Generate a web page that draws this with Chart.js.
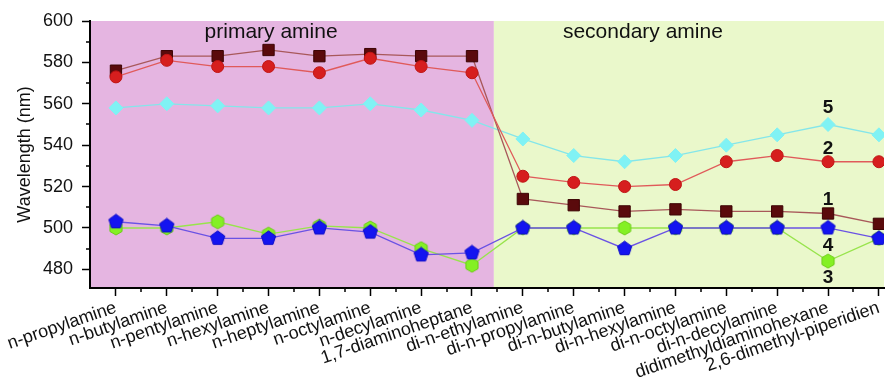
<!DOCTYPE html>
<html>
<head>
<meta charset="utf-8">
<script src="https://cdn.jsdelivr.net/npm/chart.js@4.4.0/dist/chart.umd.min.js"></script>
<style>
  html, body { margin: 0; padding: 0; background: #fff; }
  #wrap { width: 893px; height: 387px; }
</style>
</head>
<body>
<div id="wrap"><canvas id="myChart" width="893" height="387"></canvas></div>
<script>
const amines = ["n-propylamine", "n-butylamine", "n-pentylamine", "n-hexylamine", "n-heptylamine", "n-octylamine", "n-decylamine", "1,7-diaminoheptane",
  "di-n-ethylamine", "di-n-propylamine", "di-n-butylamine", "di-n-hexylamine", "di-n-octylamine", "di-n-decylamine", "didimethyldiaminohexane", "2,6-dimethyl-piperidien"];

const data1 = [576, 583, 583, 586, 583, 584, 583, 583, 514, 511, 508, 509, 508, 508, 507, 502];
const data2 = [573, 581, 578, 578, 575, 582, 578, 575, 525, 522, 520, 521, 532, 535, 532, 532];
const data5 = [558, 560, 559, 558, 558, 560, 557, 552, 543, 535, 532, 535, 540, 545, 550, 545];
const data3 = [500, 500, 503, 497, 501, 500, 490, 482, 500, 500, 500, 500, 500, 500, 484, 495];
const data4 = [503, 501, 495, 495, 500, 498, 487, 488, 500, 500, 490, 500, 500, 500, 500, 495];

const yTicks = [480, 500, 520, 540, 560, 580, 600];
const yMinor = [490, 510, 530, 550, 570, 590];

// series numbers written beside didimethyldiaminohexane
const seriesTags = ["5", "2", "1", "4", "3"];
const seriesTagY = [558, 538.5, 513.5, 491.5, 476];
const seriesTagX = 14;

// groups: name, from, to (x values)
const groupNames = ["primary amine", "secondary amine"];
const groupFrom = [-0.51, 7.43];
const groupTo = [7.43, 15.1];
const groupColors = ["#e5b5e1", "#eaf8cb"];
const groupLabelX = [3.05, 10.36];

const FONT = '"Liberation Sans", Arial, sans-serif';

function toXY(arr) {
  return arr.map((v, i) => ({x: i, y: v}));
}

function polyMarker(n, r, fill, stroke) {
  const c = document.createElement('canvas');
  c.width = c.height = Math.ceil(2 * r + 2);
  const ctx = c.getContext('2d');
  const cx = c.width / 2, cy = c.height / 2;
  ctx.beginPath();
  for (let k = 0; k < n; k++) {
    const a = -Math.PI / 2 + k * 2 * Math.PI / n;
    const px = cx + r * Math.cos(a), py = cy + r * Math.sin(a);
    if (k === 0) ctx.moveTo(px, py); else ctx.lineTo(px, py);
  }
  ctx.closePath();
  ctx.fillStyle = fill;
  ctx.fill();
  ctx.strokeStyle = stroke;
  ctx.lineWidth = 1;
  ctx.stroke();
  return c;
}

const pentagon = polyMarker(5, 7.5, '#1414f0', '#0a0ac8');
const hexagon = polyMarker(6, 7, '#84f024', '#6ccc18');

const backgroundPlugin = {
  id: 'groups',
  beforeDraw(chart) {
    const {ctx, chartArea, scales} = chart;
    ctx.save();
    for (let g = 0; g < groupNames.length; g++) {
      const x0 = scales.x.getPixelForValue(groupFrom[g]);
      const x1 = scales.x.getPixelForValue(groupTo[g]);
      ctx.fillStyle = groupColors[g];
      ctx.fillRect(x0, chartArea.top, x1 - x0, chartArea.bottom - chartArea.top);
    }
    ctx.fillStyle = '#111';
    ctx.font = '21px ' + FONT;
    ctx.textAlign = 'center';
    ctx.textBaseline = 'alphabetic';
    for (let g = 0; g < groupNames.length; g++) {
      ctx.fillText(groupNames[g], scales.x.getPixelForValue(groupLabelX[g]), chartArea.top + 17);
    }
    ctx.restore();
  },
  afterDraw(chart) {
    const {ctx, chartArea, scales} = chart;
    ctx.save();
    ctx.strokeStyle = '#000';
    ctx.lineWidth = 1.5;
    ctx.beginPath();
    for (let i = 0; i < amines.length; i++) {
      const v = i + 0.5;
      if (v > scales.x.max) break;
      const px = Math.round(scales.x.getPixelForValue(v));
      ctx.moveTo(px, chartArea.bottom);
      ctx.lineTo(px, chartArea.bottom + 4);
    }
    yMinor.forEach(v => {
      const py = Math.round(scales.y.getPixelForValue(v));
      ctx.moveTo(chartArea.left, py);
      ctx.lineTo(chartArea.left - 4, py);
    });
    ctx.stroke();

    ctx.fillStyle = '#111';
    ctx.font = 'bold 19px ' + FONT;
    ctx.textAlign = 'center';
    ctx.textBaseline = 'middle';
    for (let k = 0; k < seriesTags.length; k++) {
      ctx.fillText(seriesTags[k], scales.x.getPixelForValue(seriesTagX), scales.y.getPixelForValue(seriesTagY[k]));
    }
    ctx.restore();
  }
};

const config = {
  type: 'line',
  data: {
    datasets: [
      {
        label: '1',
        data: toXY(data1),
        order: 4,
        borderColor: '#a8585a',
        backgroundColor: '#5a0a0c',
        pointBorderColor: '#3c0404',
        borderWidth: 1.3,
        pointStyle: 'rect',
        pointRadius: 8,
        pointBorderWidth: 1
      }, {
        label: '2',
        data: toXY(data2),
        order: 3,
        borderColor: '#e05a5a',
        backgroundColor: '#d61e1e',
        pointBorderColor: '#c01414',
        borderWidth: 1.3,
        pointStyle: 'circle',
        pointRadius: 6,
        pointBorderWidth: 1
      }, {
        label: '5',
        data: toXY(data5),
        order: 5,
        borderColor: '#84e6ea',
        backgroundColor: '#80f2f4',
        pointBorderColor: '#80f2f4',
        borderWidth: 1.3,
        pointStyle: 'rectRot',
        pointRadius: 7,
        pointBorderWidth: 1
      }, {
        label: '3',
        data: toXY(data3),
        order: 2,
        borderColor: '#98e44c',
        backgroundColor: '#84f024',
        borderWidth: 1.3,
        pointStyle: hexagon,
        pointRadius: 7
      }, {
        label: '4',
        data: toXY(data4),
        order: 1,
        borderColor: '#6a52e4',
        backgroundColor: '#1414f0',
        borderWidth: 1.3,
        pointStyle: pentagon,
        pointRadius: 7
      }
    ]
  },
  options: {
    responsive: false,
    animation: false,
    events: [],
    layout: { padding: { top: 21, right: 6, left: 0, bottom: 0 } },
    plugins: {
      legend: { display: false },
      title: { display: false },
      tooltip: { enabled: false }
    },
    scales: {
      x: {
        type: 'linear',
        min: -0.51,
        max: 15.1,
        afterBuildTicks: (scale) => { scale.ticks = amines.map((a, i) => ({value: i})); },
        afterFit: (scale) => { scale.height = 99; },
        grid: { drawOnChartArea: false, drawTicks: true, tickLength: 8, tickColor: '#000', tickWidth: 1.5 },
        border: { display: true, color: '#000', width: 2 },
        ticks: {
          autoSkip: false,
          minRotation: 19,
          maxRotation: 19,
          padding: 1,
          color: '#111',
          font: { family: FONT, size: 18 },
          callback: (v) => amines[Math.round(v)]
        }
      },
      y: {
        min: 471,
        max: 600,
        afterBuildTicks: (scale) => { scale.ticks = yTicks.map(v => ({value: v})); },
        afterFit: (scale) => { scale.width = 90; },
        grid: { drawOnChartArea: false, drawTicks: true, tickLength: 8, tickColor: '#000', tickWidth: 1.5 },
        border: { display: true, color: '#000', width: 2 },
        ticks: {
          padding: 9,
          color: '#111',
          font: { family: FONT, size: 18 }
        },
        title: {
          display: true,
          text: 'Wavelength (nm)',
          color: '#111',
          padding: { top: 14, bottom: 2 },
          font: { family: FONT, size: 18 }
        }
      }
    }
  },
  plugins: [backgroundPlugin]
};

const myChart = new Chart(document.getElementById('myChart'), config);
</script>
</body>
</html>
